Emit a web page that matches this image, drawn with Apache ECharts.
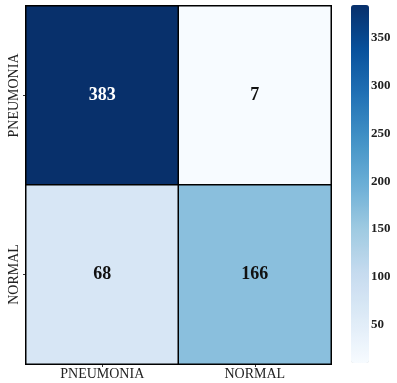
<!DOCTYPE html>
<html>
<head>
<meta charset="utf-8">
<script src="https://cdn.jsdelivr.net/npm/echarts@6/dist/echarts.min.js"></script>
<style>
  html, body { margin: 0; padding: 0; background: #fff; }
  #chart { width: 397px; height: 383px; }
</style>
</head>
<body>
<div id="chart"></div>
<script>
// Confusion matrix: rows = true label, columns = predicted label
const predictedLabels = ['PNEUMONIA', 'NORMAL'];
const trueLabels = ['PNEUMONIA', 'NORMAL'];
const countsPneumonia = [383, 7];
const countsNormal = [68, 166];
const colorbarTicks = [50, 100, 150, 200, 250, 300, 350];

// Matplotlib "Blues" colormap stops
const blues = ['#f7fbff', '#deebf7', '#c6dbef', '#9ecae1', '#6baed6',
               '#4292c6', '#2171b5', '#08519c', '#08306b'];

const rows = [countsPneumonia, countsNormal];
const allValues = rows.flat();
const vMin = Math.min(...allValues);
const vMax = Math.max(...allValues);

const cells = [];
rows.forEach((row, r) => {
  row.forEach((v, c) => {
    cells.push({
      value: [c, r, v],
      label: { color: v > (vMin + vMax) / 2 ? '#ffffff' : '#111111' }
    });
  });
});

const serif = '"Liberation Serif", "DejaVu Serif", serif';

const chart = echarts.init(document.getElementById('chart'), null, { renderer: 'canvas' });
chart.setOption({
  animation: false,
  grid: [
    { left: 26, top: 6, width: 305, height: 358 },
    { left: 351, top: 6, width: 18, height: 360 }
  ],
  xAxis: [
    {
      gridIndex: 0, type: 'category', data: predictedLabels,
      axisLine: { show: false },
      axisTick: { show: true, alignWithLabel: true, length: 3, lineStyle: { color: '#333' } },
      axisLabel: { fontFamily: serif, fontSize: 14, color: '#222', margin: 3 },
      splitLine: { show: false }
    },
    { gridIndex: 1, type: 'value', show: false }
  ],
  yAxis: [
    {
      gridIndex: 0, type: 'category', data: trueLabels, inverse: true,
      axisLine: { show: false },
      axisTick: { show: true, alignWithLabel: true, length: 3, lineStyle: { color: '#333' } },
      axisLabel: { fontFamily: serif, fontSize: 14, color: '#222', rotate: 90, margin: 5 },
      splitLine: { show: false }
    },
    {
      gridIndex: 1, type: 'value', position: 'right', min: vMin, max: vMax,
      axisLine: { show: false },
      splitLine: { show: false },
      axisTick: { show: true, length: 4, customValues: colorbarTicks, lineStyle: { color: '#333' } },
      axisLabel: {
        customValues: colorbarTicks, fontFamily: serif, fontSize: 13,
        fontWeight: 'bold', color: '#222', margin: 2
      }
    }
  ],
  visualMap: {
    type: 'continuous',
    min: vMin, max: vMax,
    seriesIndex: 0,
    calculable: false,
    orient: 'vertical',
    left: 351, top: 5,
    itemWidth: 18, itemHeight: 358,
    text: ['', ''],
    padding: 0,
    inRange: { color: blues }
  },
  series: [{
    type: 'heatmap',
    xAxisIndex: 0, yAxisIndex: 0,
    data: cells,
    itemStyle: { borderColor: '#000', borderWidth: 1.5 },
    label: {
      show: true, fontFamily: serif, fontSize: 18, fontWeight: 'bold',
      formatter: p => p.value[2]
    },
    emphasis: { disabled: true }
  }]
});
</script>
</body>
</html>
